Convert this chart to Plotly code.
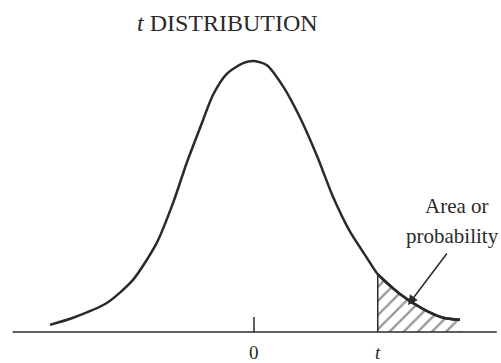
import plotly.graph_objects as go

# curve (t units, density)
curve_x = [-3.0, -2.66, -2.16, -1.78, -1.43, -1.19, -0.99, -0.79, -0.60, -0.40,
           -0.16, 0.0, 0.19, 0.43, 0.68, 0.93, 1.16, 1.41, 1.66, 1.82,
           2.15, 2.49, 2.78, 3.03]
curve_y = [0.010, 0.020, 0.041, 0.073, 0.125, 0.181, 0.237, 0.287, 0.333, 0.362,
           0.377, 0.380, 0.374, 0.344, 0.300, 0.246, 0.190, 0.141, 0.104, 0.081,
           0.053, 0.032, 0.020, 0.017]

t_value = 1.82
tick_labels = ["0", "<i>t</i>"]
tick_positions = [0.0, t_value]

title_text = "<i>t</i> DISTRIBUTION"
note_lines = ["Area or", "probability"]

ink = "#2a2a2a"
serif = "Liberation Serif, Times New Roman, serif"

tail_x = [x for x in curve_x if x >= t_value]
tail_y = [y for x, y in zip(curve_x, curve_y) if x >= t_value]

fig = go.Figure()

# hatched tail area
fig.add_trace(go.Scatter(
    x=tail_x, y=tail_y, mode="lines",
    line=dict(color=ink, width=2.5, shape="spline", smoothing=0.7),
    fill="tozeroy", fillcolor="white",
    fillpattern=dict(shape="/", fgcolor=ink, bgcolor="white", size=10, solidity=0.22),
    hoverinfo="skip",
))

# density curve
fig.add_trace(go.Scatter(
    x=curve_x, y=curve_y, mode="lines",
    line=dict(color=ink, width=2.5, shape="spline", smoothing=0.7),
    hoverinfo="skip",
))

# vertical line at t
fig.add_trace(go.Scatter(
    x=[t_value, t_value], y=[0, tail_y[0]], mode="lines",
    line=dict(color=ink, width=1.5), hoverinfo="skip",
))

# baseline and tick at 0
fig.add_shape(type="line", x0=-3.55, x1=3.57, y0=0, y1=0, line=dict(color=ink, width=1.5))
fig.add_shape(type="line", x0=0, x1=0, y0=0, y1=0.021, line=dict(color=ink, width=1.5))

for pos, lab in zip(tick_positions, tick_labels):
    fig.add_annotation(x=pos, y=-0.029, text=lab, showarrow=False, yanchor="middle",
                       font=dict(family=serif, size=19, color=ink))

fig.add_annotation(xref="paper", yref="paper", x=0.455, y=1 - 23 / 363, text=title_text,
                   showarrow=False, yanchor="middle",
                   font=dict(family=serif, size=24, color=ink))

fig.add_annotation(x=2.99, y=(332 - 206) / 713.2, text=note_lines[0], showarrow=False,
                   yanchor="middle", font=dict(family=serif, size=21, color=ink))
fig.add_annotation(xref="paper", x=1.0, y=(332 - 236) / 713.2, text=note_lines[1],
                   showarrow=False, xanchor="right", yanchor="middle",
                   font=dict(family=serif, size=21, color=ink))

# arrow pointing into the tail
fig.add_annotation(x=(408 - 254) / 68, y=(332 - 305) / 713.2, text="",
                   showarrow=True, ax=40, ay=-53, arrowhead=2, arrowsize=1.3,
                   arrowwidth=1.5, arrowcolor=ink)

fig.update_layout(
    width=501, height=363,
    margin=dict(l=0, r=0, t=0, b=0),
    paper_bgcolor="white", plot_bgcolor="white",
    showlegend=False,
    xaxis=dict(range=[-254 / 68, 247 / 68], visible=False, fixedrange=True),
    yaxis=dict(range=[-0.0435, 0.4655], visible=False, fixedrange=True),
)

fig.write_html("out.html", config={"displayModeBar": False},
               post_script="document.body.style.margin='0';")
